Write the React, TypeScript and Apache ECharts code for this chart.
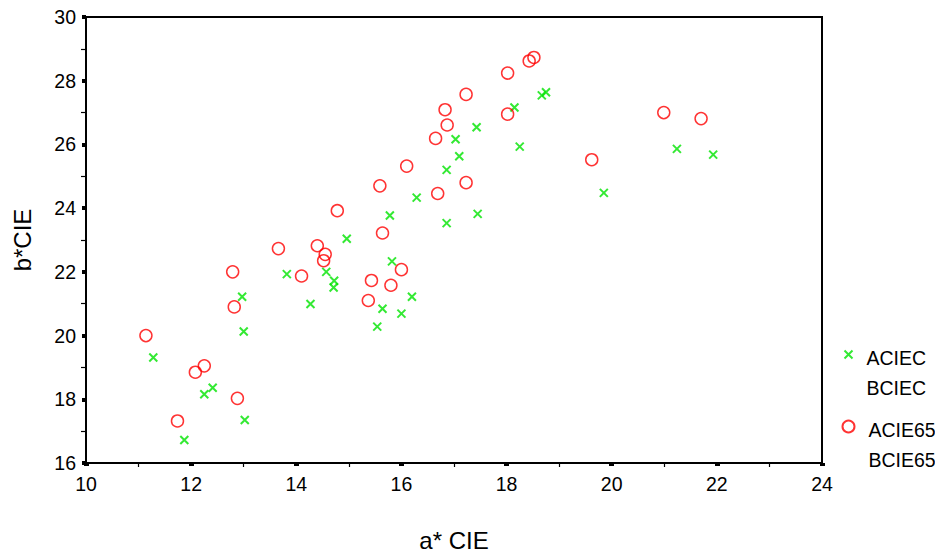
import React, { useEffect, useRef } from "react";
import * as echarts from "echarts";

const acX = [11.28, 12.25, 12.41, 11.87, 13.02, 13.0, 12.97, 16.29, 15.78, 16.86, 14.96, 15.82, 13.82, 14.57, 14.72, 14.71, 16.2, 14.27, 15.64, 16.0, 15.54, 18.75, 18.67, 18.15, 17.43, 17.03, 18.25, 17.1, 16.86, 17.45, 21.24, 21.93, 19.85];
const acY = [19.31, 18.16, 18.36, 16.72, 17.35, 20.13, 21.22, 24.33, 23.77, 23.53, 23.04, 22.33, 21.93, 22.0, 21.72, 21.51, 21.22, 20.99, 20.84, 20.69, 20.28, 27.64, 27.54, 27.16, 26.54, 26.16, 25.93, 25.63, 25.2, 23.82, 25.86, 25.68, 24.48];

const d65X = [11.14, 12.08, 12.25, 11.74, 12.88, 12.82, 12.79, 15.59, 17.23, 16.69, 14.78, 15.64, 13.66, 14.4, 14.55, 14.52, 16.0, 14.1, 15.43, 15.8, 15.37, 18.52, 18.43, 18.02, 17.23, 16.83, 18.02, 16.87, 16.65, 19.62, 20.99, 21.7, 16.1];
const d65Y = [20.0, 18.85, 19.05, 17.32, 18.03, 20.9, 22.0, 24.7, 24.8, 24.46, 23.92, 23.22, 22.73, 22.82, 22.55, 22.35, 22.07, 21.87, 21.73, 21.58, 21.1, 28.73, 28.62, 28.24, 27.57, 27.09, 26.95, 26.61, 26.19, 25.52, 27.0, 26.81, 25.32];

const seriesNames = ["ACIEC\nBCIEC", "ACIE65\nBCIE65"];
const xAxisName = "a* CIE";
const yAxisName = "b*CIE";

const crossPath = "path://M0,0L8,8M8,0L0,8";
const FONT = "Liberation Sans, Arial, sans-serif";

export default function App() {
  const ref = useRef<HTMLDivElement>(null);
  useEffect(() => {
    if (!ref.current) return;
    const chart = echarts.init(ref.current, undefined, { renderer: "svg" });
    const zip = (xs: number[], ys: number[]) => xs.map((x, i) => [x, ys[i]]);
    const legendCommon = {
      orient: "vertical",
      padding: 0,
      selectedMode: false,
      formatter: (name: string) =>
        "{p| }\n" + name.split("\n").map((s) => "{a|" + s + "}").join("\n"),
      textStyle: {
        fontFamily: FONT,
        fontSize: 19,
        color: "#000",
        rich: {
          p: { fontSize: 1, lineHeight: 36 },
          a: { fontFamily: FONT, fontSize: 19.5, color: "#000", lineHeight: 30, padding: [0, 0, 0, 9] },
        },
      },
    };
    chart.setOption({
      animation: false,
      backgroundColor: "#fff",
      grid: {
        left: 86,
        right: 121,
        top: 17,
        bottom: 95,
        show: true,
        borderColor: "#000",
        borderWidth: 2,
        backgroundColor: "transparent",
      },
      legend: [
        { ...legendCommon, top: 324, left: 842, itemWidth: 8, itemHeight: 8, data: [seriesNames[0]] },
        { ...legendCommon, top: 396, left: 840, itemWidth: 12, itemHeight: 12, data: [seriesNames[1]] },
      ],
      xAxis: {
        type: "value",
        min: 10,
        max: 24,
        interval: 2,
        name: xAxisName,
        nameLocation: "middle",
        nameGap: 65,
        nameTextStyle: { fontFamily: FONT, fontSize: 24, color: "#000" },
        splitLine: { show: false },
        axisLine: { show: true, lineStyle: { color: "#000", width: 2 } },
        axisTick: { show: true, length: 3, lineStyle: { color: "#000", width: 5 } },
        minorTick: { show: true, splitNumber: 2, length: 4, lineStyle: { color: "#000", width: 1.2 } },
        axisLabel: { fontFamily: FONT, fontSize: 19.5, color: "#000", margin: 11 },
      },
      yAxis: {
        type: "value",
        min: 16,
        max: 30,
        interval: 2,
        name: yAxisName,
        nameLocation: "middle",
        nameGap: 52,
        nameTextStyle: { fontFamily: FONT, fontSize: 24, color: "#000" },
        splitLine: { show: false },
        axisLine: { show: true, lineStyle: { color: "#000", width: 2 } },
        axisTick: { show: true, length: 4, lineStyle: { color: "#000", width: 4 } },
        minorTick: { show: true, splitNumber: 2, length: 5, lineStyle: { color: "#000", width: 1.2 } },
        axisLabel: { fontFamily: FONT, fontSize: 19.5, color: "#000", margin: 10 },
      },
      series: [
        {
          name: seriesNames[0],
          type: "scatter",
          symbol: crossPath,
          symbolSize: 8,
          data: zip(acX, acY),
          itemStyle: { color: "none", borderColor: "#00e400", borderWidth: 2 },
        },
        {
          name: seriesNames[1],
          type: "scatter",
          symbol: "circle",
          symbolSize: 12,
          data: zip(d65X, d65Y),
          itemStyle: { color: "none", borderColor: "#ff0000", borderWidth: 1.5 },
        },
      ],
    });
    return () => chart.dispose();
  }, []);
  return <div ref={ref} style={{ width: 943, height: 558, margin: -8 }} />;
}
